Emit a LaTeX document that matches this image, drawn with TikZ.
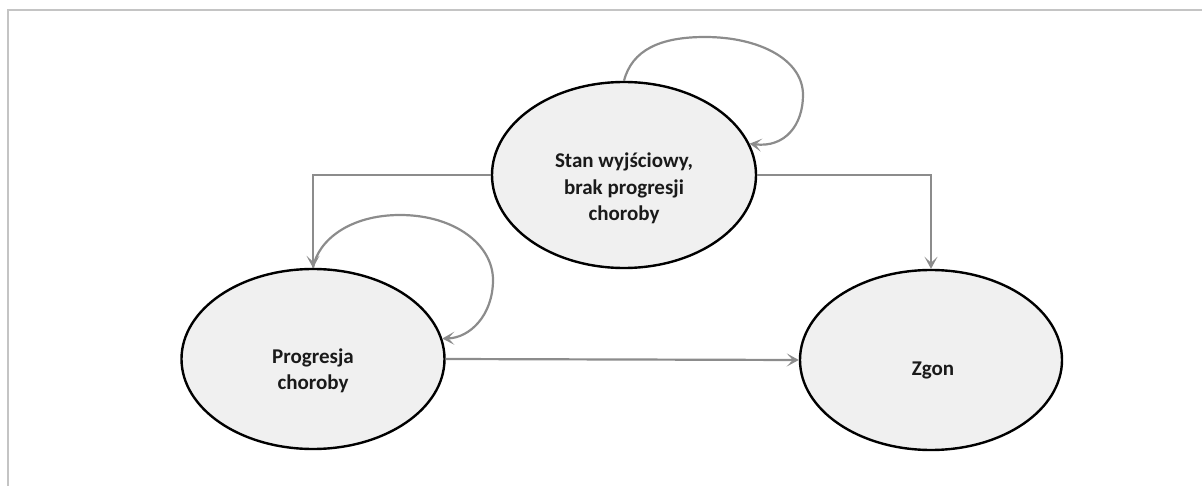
\documentclass[tikz,border=0pt]{standalone}
\usepackage{fontspec}
\setmainfont{Carlito}
\usetikzlibrary{arrows.meta,shapes.geometric}
\definecolor{conn}{HTML}{8C8C8C}
\definecolor{fillc}{HTML}{F0F0F0}
\definecolor{frame}{HTML}{C4C4C4}
\definecolor{txt}{HTML}{1A1A1A}
\tikzset{
  state/.style={ellipse, draw=black, line width=2.4pt, fill=fillc, inner sep=0pt},
  lbl/.style={align=center, text=txt, font=\fontsize{21}{26.5}\selectfont\bfseries, inner sep=0pt},
  conn/.style={draw=conn, line width=2.2pt, -{Stealth[length=12pt,width=13pt,inset=6pt]}},
}
\begin{document}
\begin{tikzpicture}[x=1pt,y=-1pt]
\useasboundingbox (0,0) rectangle (1202,486);
\draw[frame, line width=2pt] (8,486) -- (8,10) -- (1202,10);

\node[state, minimum width=264pt, minimum height=186pt] (top) at (624,175) {};
\node[state, minimum width=263pt, minimum height=180pt] (left) at (313,359) {};
\node[state, minimum width=262pt, minimum height=180pt] (right) at (931,360) {};

\node[lbl] (toptext) at (624,188.5) {Stan wyjściowy,\\brak progresji\\choroby};
\node[lbl] (lefttext) at (313,371) {Progresja\\choroby};
\node[lbl] (righttext) at (933,370) {Zgon};

\draw[conn] (top.west) -| (left.north);
\draw[conn] (top.east) -| (right.north);
\draw[conn] (left.east) -- (right.west);

\draw[conn] (top.north) .. controls (632,50) and (660,37) .. (705,37)
  .. controls (760,37) and (803,60) .. (803,95)
  .. controls (803,125) and (785,148) .. (top.14);
\draw[conn] (left.north) .. controls (318,240) and (350,215) .. (400,215)
  .. controls (455,215) and (493,245) .. (493,280)
  .. controls (493,315) and (470,338) .. (left.9);
\end{tikzpicture}
\end{document}
